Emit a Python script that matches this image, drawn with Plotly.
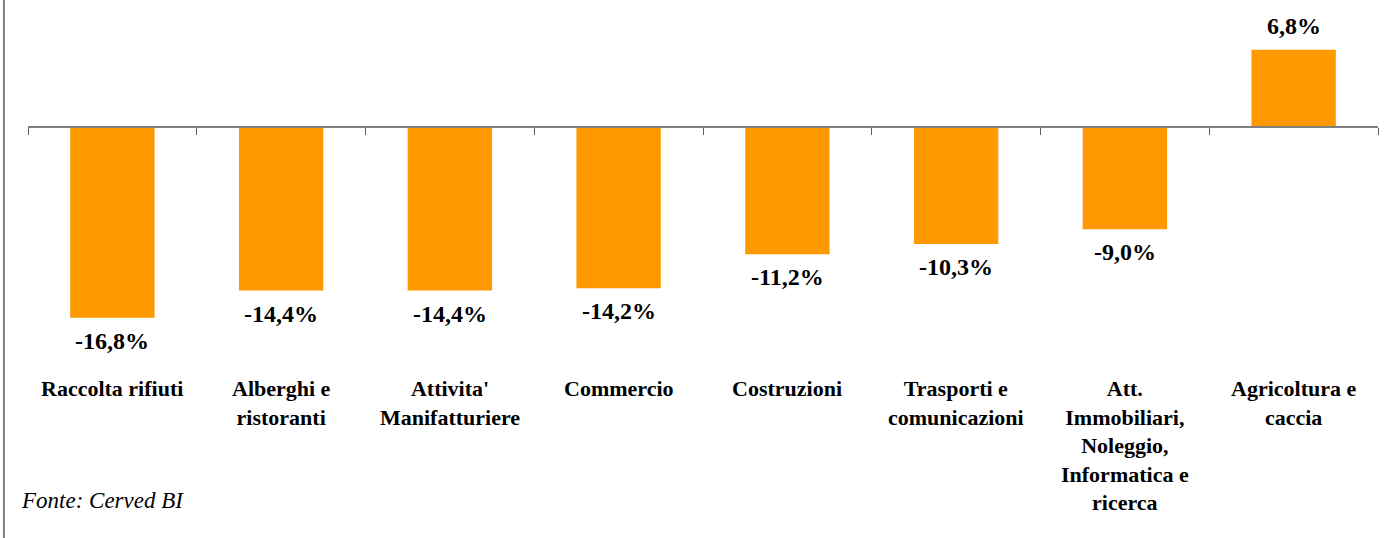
import plotly.graph_objects as go

categories = ["Raccolta rifiuti", "Alberghi e ristoranti", "Attivita' Manifatturiere",
              "Commercio", "Costruzioni", "Trasporti e comunicazioni",
              "Att. Immobiliari, Noleggio, Informatica e ricerca", "Agricoltura e caccia"]
tick_labels = ["Raccolta rifiuti", "Alberghi e<br>ristoranti", "Attivita'<br>Manifatturiere",
               "Commercio", "Costruzioni", "Trasporti e<br>comunicazioni",
               "Att.<br>Immobiliari,<br>Noleggio,<br>Informatica e<br>ricerca", "Agricoltura e<br>caccia"]
values = [-16.8, -14.4, -14.4, -14.2, -11.2, -10.3, -9.0, 6.8]
value_labels = ["-16,8%", "-14,4%", "-14,4%", "-14,2%", "-11,2%", "-10,3%", "-9,0%", "6,8%"]
source_text = "Fonte: Cerved BI"

FONT = "Liberation Serif, Times New Roman, serif"
ymin, ymax = -35.3, 10.3

fig = go.Figure(go.Bar(
    x=categories, y=values, marker=dict(color="#FF9900", line=dict(width=0)),
    hoverinfo="skip",
))

annotations = []
for c, v, t in zip(categories, values, value_labels):
    annotations.append(dict(
        x=c, y=v, xref="x", yref="y", text=f"<b>{t}</b>", showarrow=False,
        yanchor="middle", yshift=(-23 if v < 0 else 24),
        font=dict(family=FONT, size=24, color="black"),
    ))
for c, t in zip(categories, tick_labels):
    annotations.append(dict(
        x=c, y=0.297, xref="x", yref="paper", text=f"<b>{t}</b>", showarrow=False,
        yanchor="top", xanchor="center", align="center",
        font=dict(family=FONT, size=22, color="black"),
    ))
annotations.append(dict(
    x=-0.0065, y=0.054, xref="paper", yref="paper", text=f"<i>{source_text}</i>",
    showarrow=False, xanchor="left", yanchor="middle",
    font=dict(family=FONT, size=23, color="black"),
))

fig.update_layout(
    width=1389, height=538,
    margin=dict(l=28, r=11, t=10, b=10),
    paper_bgcolor="white", plot_bgcolor="white",
    bargap=0.5,
    showlegend=False,
    annotations=annotations,
    shapes=[dict(type="line", xref="paper", yref="paper",
                 x0=-0.0178, x1=-0.0178, y0=-0.05, y1=1.05,
                 line=dict(color="#404040", width=1.3))],
    xaxis=dict(
        showticklabels=False, showgrid=False, zeroline=False,
        showline=True, linecolor="#808080", linewidth=1.5,
        ticks="outside", tickson="boundaries", ticklen=7, tickcolor="#606060", tickwidth=1.2,
        anchor="free", position=(-ymin) / (ymax - ymin),
    ),
    yaxis=dict(range=[ymin, ymax], visible=False, showgrid=False, zeroline=False),
)

fig.write_html("out.html", config={"displayModeBar": False},
               post_script="document.body.style.margin='0';document.body.style.overflow='hidden';")
